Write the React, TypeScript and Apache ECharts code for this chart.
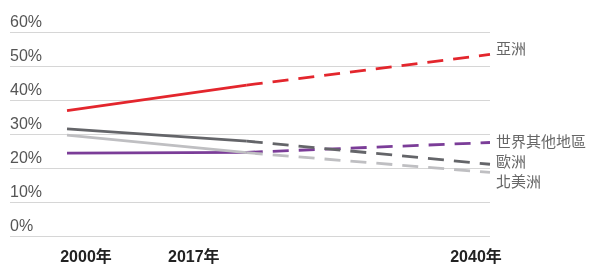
import React, { useEffect, useRef } from "react";
import * as echarts from "echarts";

const years = [2000, 2017, 2040];
const yearLabels = ["2000年", "2017年", "2040年"];
const yTicks = [0, 10, 20, 30, 40, 50, 60];

const seriesNames = ["世界其他地區", "北美洲", "歐洲", "亞洲"];
const restOfWorld = [24.4, 24.6, 27.5];
const northAmerica = [29.7, 24.5, 18.7];
const europe = [31.5, 27.9, 21.1];
const asia = [36.9, 44.4, 53.4];

const FONT = '"Liberation Sans", "Noto Sans CJK TC", sans-serif';

export default function App() {
  const ref = useRef<HTMLDivElement>(null);
  useEffect(() => {
    if (!ref.current) return;
    const chart = echarts.init(ref.current, undefined, { renderer: "svg" });
    const values = [restOfWorld, northAmerica, europe, asia];
    const colors = ["#7b3d98", "#bfbfc2", "#646569", "#e3262d"];
    const labelOffsets = [[0, -1], [0, 9], [0, -3], [0, -6]];
    const series: any[] = [];
    values.forEach((vals, i) => {
      const pts = years.map((y, j) => [y, vals[j]]);
      series.push({
        type: "line",
        name: seriesNames[i] + "_solid",
        data: pts.slice(0, 2),
        symbol: "none",
        lineStyle: { color: colors[i], width: 2.8 },
        z: 2 + i,
      });
      series.push({
        type: "line",
        name: seriesNames[i],
        data: pts.slice(1),
        symbol: "none",
        lineStyle: { color: colors[i], width: 2.8, type: [16, 10] },
        z: 2 + i,
        endLabel: {
          show: true,
          formatter: seriesNames[i],
          color: "#666",
          fontSize: 15,
          fontFamily: FONT,
          distance: 6,
          offset: labelOffsets[i],
        },
      });
    });
    const shifts = [38, -106, -28];
    const rich: any = {};
    shifts.forEach((s, i) => {
      rich["l" + i] = {
        fontSize: 16,
        fontWeight: "bold",
        color: "#222",
        fontFamily: FONT,
        padding: s > 0 ? [0, 0, 0, s] : [0, -s, 0, 0],
      };
    });
    chart.setOption({
      animation: false,
      grid: { left: 10, right: 101, top: 32, bottom: 26 },
      xAxis: {
        type: "value",
        min: 1994.61,
        max: 2040,
        axisLine: { show: false },
        axisTick: { show: false },
        splitLine: { show: false },
        axisLabel: {
          customValues: years,
          margin: 12,
          formatter: (v: number) => {
            const i = years.indexOf(Math.round(v));
            return i >= 0 ? `{l${i}|${yearLabels[i]}}` : "";
          },
          rich,
        },
      },
      yAxis: {
        type: "value",
        min: 0,
        max: 60,
        interval: 10,
        axisLine: { show: false },
        axisTick: { show: false },
        splitLine: { lineStyle: { color: "#d6d6d6", width: 1 } },
        axisLabel: {
          inside: true,
          margin: 0,
          align: "left",
          verticalAlign: "bottom",
          padding: [0, 0, 3, 0],
          color: "#555",
          fontSize: 16,
          fontFamily: FONT,
          customValues: yTicks,
          formatter: (v: number) => `${v}%`,
        },
      },
      series,
    });
    return () => chart.dispose();
  }, []);
  return (
    <div
      ref={ref}
      style={{ position: "fixed", left: 0, top: 0, width: 591, height: 264 }}
    />
  );
}
